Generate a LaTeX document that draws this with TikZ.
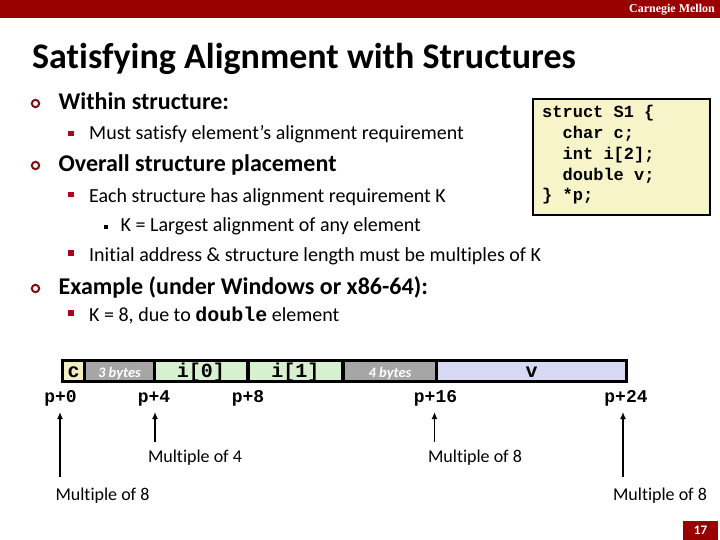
\documentclass[tikz,border=0pt]{standalone}
\usepackage{fontspec}
\setmainfont{Carlito}[Ligatures=NoCommon]
\setmonofont{Liberation Mono}
\newfontfamily\cmufont{Liberation Serif}
\usetikzlibrary{arrows.meta}
\definecolor{barred}{RGB}{153,0,0}
\definecolor{ringred}{RGB}{125,18,22}
\definecolor{sqred}{RGB}{170,0,30}
\definecolor{structyel}{RGB}{248,244,202}
\definecolor{cyel}{RGB}{243,238,192}
\definecolor{padgray}{RGB}{166,166,166}
\definecolor{igreen}{RGB}{214,240,208}
\definecolor{vlav}{RGB}{214,216,244}
\begin{document}
\begin{tikzpicture}[x=1pt,y=-1pt,
  lvlone/.style={anchor=base west,inner sep=0pt,font=\fontsize{24}{28}\selectfont\bfseries},
  lvltwo/.style={anchor=base west,inner sep=0pt,font=\fontsize{20}{24}\selectfont},
  codeline/.style={anchor=base west,inner sep=0pt,font=\fontsize{17}{20}\selectfont\ttfamily\bfseries},
  addr/.style={anchor=base,inner sep=0pt,font=\fontsize{18}{20}\selectfont\ttfamily\bfseries},
  cellbox/.style={inner sep=0pt,minimum height=18pt,text height=14pt,text depth=2pt},
  celltxt/.style={cellbox,font=\fontsize{20}{22}\selectfont\ttfamily\bfseries},
  padtxt/.style={cellbox,fill=padgray,text=white,font=\fontsize{14.5}{16}\selectfont\bfseries\itshape},
  note/.style={anchor=base,inner sep=0pt,font=\fontsize{18}{20}\selectfont},
  ringbul/.style={draw=ringred,line width=2pt},
  sqbul/.style={fill=sqred},
  ptr/.style={line width=1.8pt,-{Latex[length=7pt,width=6pt]}},
]
\useasboundingbox (0,0) rectangle (720,540);
% header bar
\fill[barred] (0,0) rectangle (720,18.3);
\node[anchor=base east,inner sep=0pt,text=white,font=\cmufont\fontsize{12}{13}\selectfont\bfseries] (cmu) at (715,12.5) {Carnegie Mellon};
% title
\node[anchor=base west,inner sep=0pt,font=\fontsize{36}{40}\selectfont\bfseries] (title) at (32,68.3) {Satisfying Alignment with Structures};
% bullets
\draw[ringbul] (35.5,103.5) circle (3.7);
\node[lvlone] (b1) at (58.5,110) {Within structure:};
\fill[sqbul] (68.3,131) rectangle (73.8,136.5);
\node[lvltwo] (b1a) at (89,140) {Must satisfy element’s alignment requirement};
\draw[ringbul] (35.5,165.5) circle (3.7);
\node[lvlone] (b2) at (58.5,172) {Overall structure placement};
\fill[sqbul] (68.3,192) rectangle (73.8,197.5);
\node[lvltwo] (b2a) at (89,203) {Each structure has alignment requirement K};
\fill[black] (104,225.2) rectangle (107.6,228.8);
\node[lvltwo] (b2b) at (120.5,232) {K = Largest alignment of any element};
\fill[sqbul] (68.3,250) rectangle (73.8,255.5);
\node[lvltwo] (b2c) at (89,261) {Initial address \& structure length must be multiples of K};
\draw[ringbul] (35.5,288.5) circle (3.7);
\node[lvlone] (b3) at (58.5,294) {Example (under Windows or x86-64):};
\fill[sqbul] (68.3,310) rectangle (73.8,315.5);
\node[lvltwo] (b3a) at (89,321) {K = 8, due to {\ttfamily\bfseries double} element};
% struct box
\node[draw,fill=structyel,line width=1.5pt,minimum width=177pt,minimum height=116pt,inner sep=0pt] (sbox) at (621.5,157) {};
\node[codeline] (s1) at (542,118) {struct S1 \{};
\node[codeline] (s2) at (562.5,138.75) {char c;};
\node[codeline] (s3) at (562.5,159.5) {int i[2];};
\node[codeline] (s4) at (562.5,180.25) {double v;};
\node[codeline] (s5) at (542,201) {\} *p;};
% memory layout
\node[fill=black,inner sep=0pt,minimum width=567pt,minimum height=24pt] (mem) at (344.5,371) {};
\node[celltxt,fill=cyel,minimum width=19pt] (cc) at (73.5,371) {c};
\node[padtxt,minimum width=67pt] (pad3) at (119.5,371) {3 bytes};
\node[celltxt,fill=igreen,minimum width=90pt] (i0) at (201,371) {i[0]};
\node[celltxt,fill=igreen,minimum width=91pt] (i1) at (295.5,371) {i[1]};
\node[padtxt,minimum width=90pt] (pad4) at (390,371) {4 bytes};
\node[celltxt,fill=vlav,minimum width=187pt] (vv) at (531.5,371) {v};
% addresses
\node[addr] (p0) at (60.5,402) {p+0};
\node[addr] (p4) at (154,402) {p+4};
\node[addr] (p8) at (248,402) {p+8};
\node[addr] (p16) at (435.5,402) {p+16};
\node[addr] (p24) at (626,402) {p+24};
% arrows
\coordinate (t0) at (60,412);   \coordinate (f0) at (60,477);
\coordinate (t4) at (155,412);  \coordinate (f4) at (155,442);
\coordinate (t16) at (434.5,412); \coordinate (f16) at (434.5,442);
\coordinate (t24) at (623,412); \coordinate (f24) at (623,477);
\draw[ptr] (f0) -- (t0);
\draw[ptr] (f4) -- (t4);
\draw[ptr] (f16) -- (t16);
\draw[ptr] (f24) -- (t24);
\node[note] (m4) at (195,462) {Multiple of 4};
\node[note] (m16) at (475,462) {Multiple of 8};
\node[note] (m0) at (102.5,500) {Multiple of 8};
\node[note] (m24) at (660,500) {Multiple of 8};
% page number
\node[fill=barred,text=white,inner sep=0pt,minimum width=35pt,minimum height=19pt,font=\fontsize{13}{14}\selectfont\bfseries] (pg) at (700.5,530.5) {17};
\end{tikzpicture}
\end{document}
